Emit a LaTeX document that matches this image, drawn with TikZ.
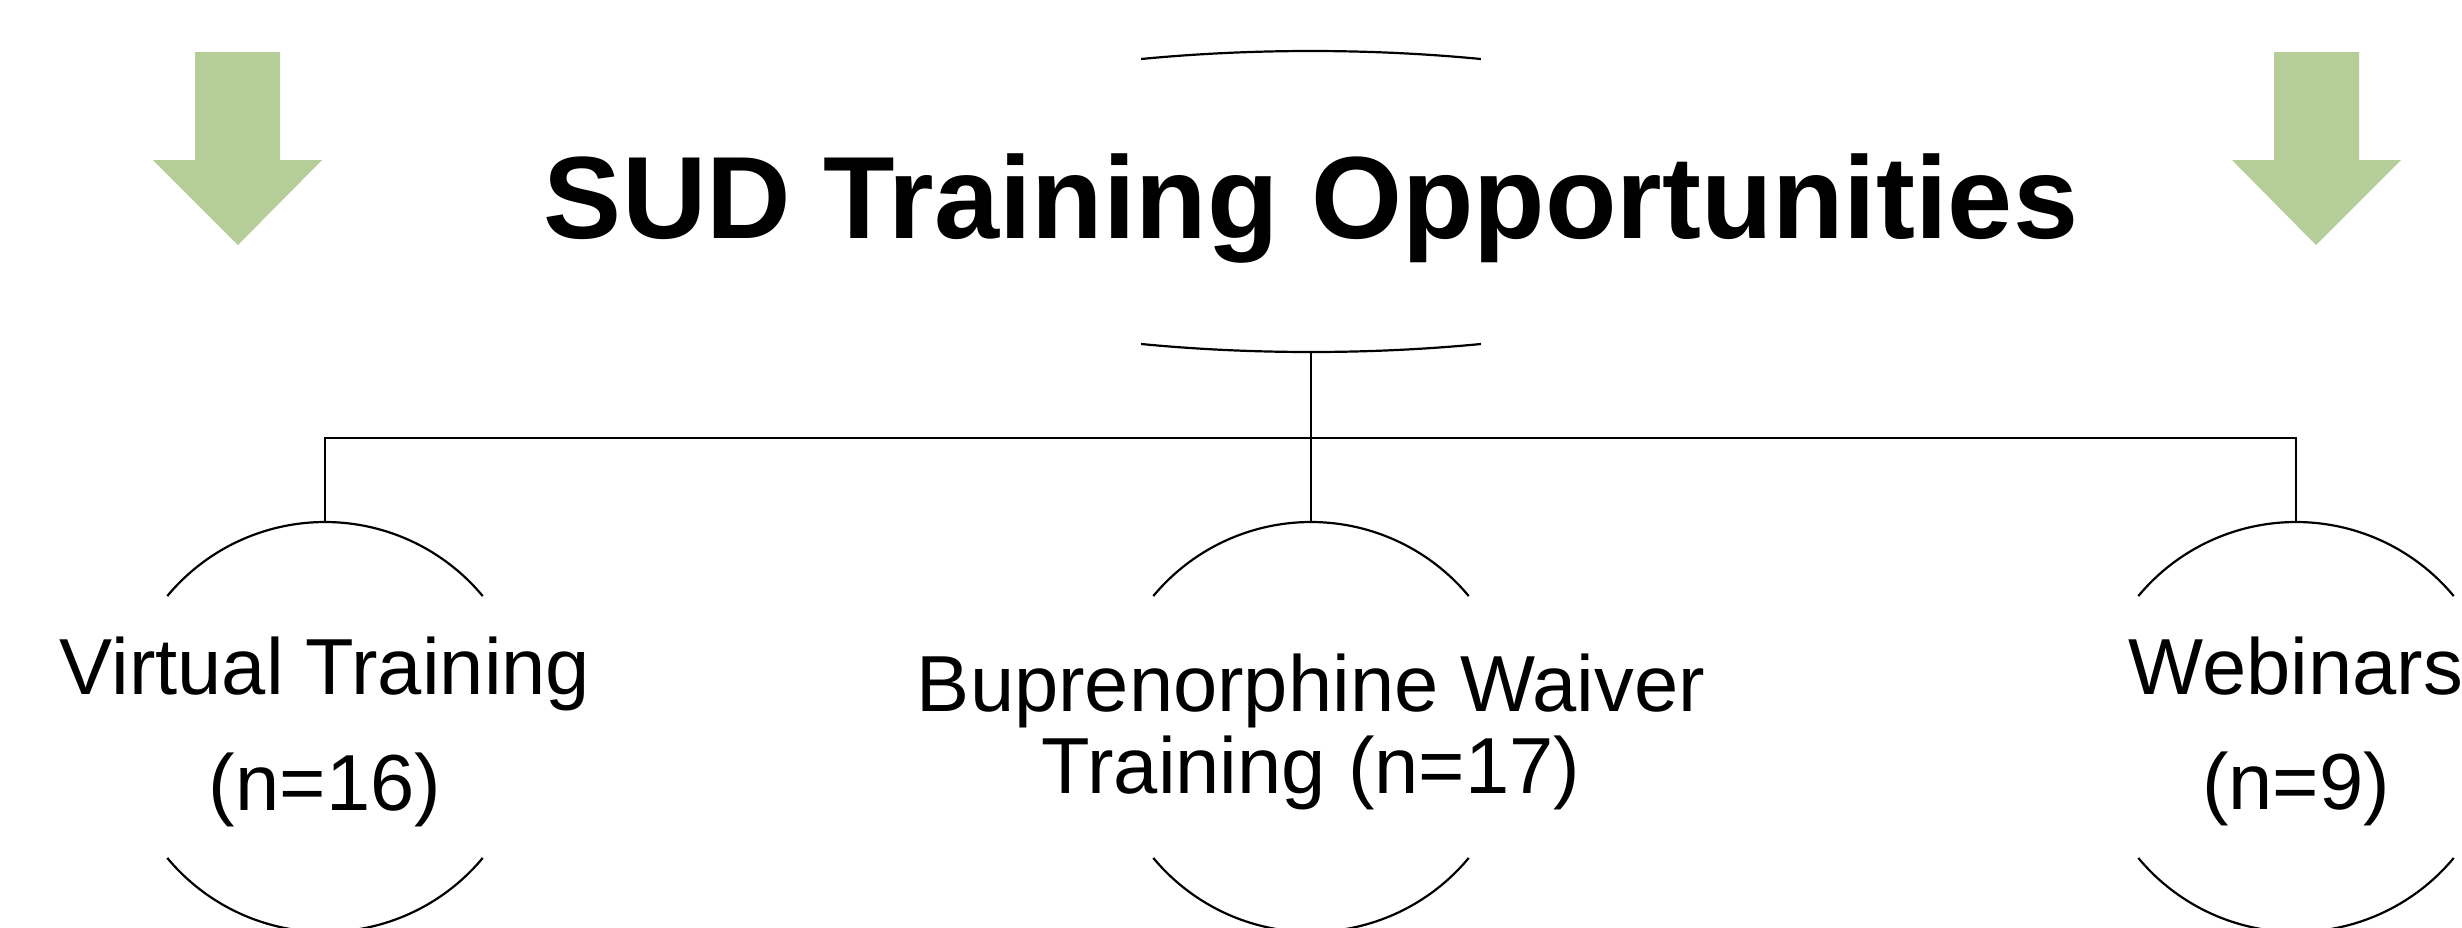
\documentclass[tikz,border=0pt]{standalone}
\usepackage{fontspec}
\setmainfont{Liberation Sans}
\definecolor{arrowgreen}{RGB}{181,205,153}
\tikzset{
  conn/.style={line width=2.2pt, draw=black},
  frame/.style={line width=2.2pt, draw=black},
  bigarrow/.style={fill=arrowgreen, draw=none},
  titletext/.style={anchor=base, inner sep=0pt, font=\bfseries\fontsize{117}{127}\selectfont},
  childtext/.style={anchor=base, inner sep=0pt, font=\fontsize{79.5}{90}\selectfont},
  pics/cutcircle/.style={code={
    \draw[frame] (-140.3:205) arc[start angle=-140.3, end angle=-39.7, radius=205];
    \draw[frame] (39.7:205) arc[start angle=39.7, end angle=140.3, radius=205];
  }},
}
\begin{document}
\begin{tikzpicture}[x=1pt,y=-1pt]
\useasboundingbox (0,0) rectangle (2462,927);
\fill[white] (0,0) rectangle (2462,927);

% green arrows
\fill[bigarrow] (195,52) -- (280,52) -- (280,160) -- (322,160) -- (238,245) -- (153,160) -- (195,160) -- cycle;
\fill[bigarrow] (2274,52) -- (2359,52) -- (2359,160) -- (2401,160) -- (2316,245) -- (2232,160) -- (2274,160) -- cycle;

% title
\node[titletext] (title) at (1311,238) {SUD Training Opportunities};
\coordinate (tc) at (1311,201.5);
\coordinate (tb) at (1311,352);
\draw[frame] (tc) ++(-108.77:528 and 150.5) arc[start angle=-108.77, end angle=-71.23, x radius=528, y radius=150.5];
\draw[frame] (tc) ++(71.23:528 and 150.5) arc[start angle=71.23, end angle=108.77, x radius=528, y radius=150.5];

% children centres and tops
\coordinate (c1) at (325,727);
\coordinate (c2) at (1311,727);
\coordinate (c3) at (2296,727);
\coordinate (c1t) at (325,522);
\coordinate (c2t) at (1311,522);
\coordinate (c3t) at (2296,522);
\coordinate (bus) at (1311,438);

\pic at (c1) {cutcircle};
\pic at (c2) {cutcircle};
\pic at (c3) {cutcircle};

% connectors
\draw[conn] (tb) -- (c2t);
\draw[conn] (c1t) |- (bus) -| (c3t);

% child texts
\node[childtext] (v1) at (325,694) {Virtual Training};
\node[childtext] (v2) at (325,810) {(n=16)};
\node[childtext] (b1) at (1311,711) {Buprenorphine Waiver};
\node[childtext] (b2) at (1311,793) {Training (n=17)};
\node[childtext] (w1) at (2296,694) {Webinars};
\node[childtext] (w2) at (2296,809) {(n=9)};
\end{tikzpicture}
\end{document}
